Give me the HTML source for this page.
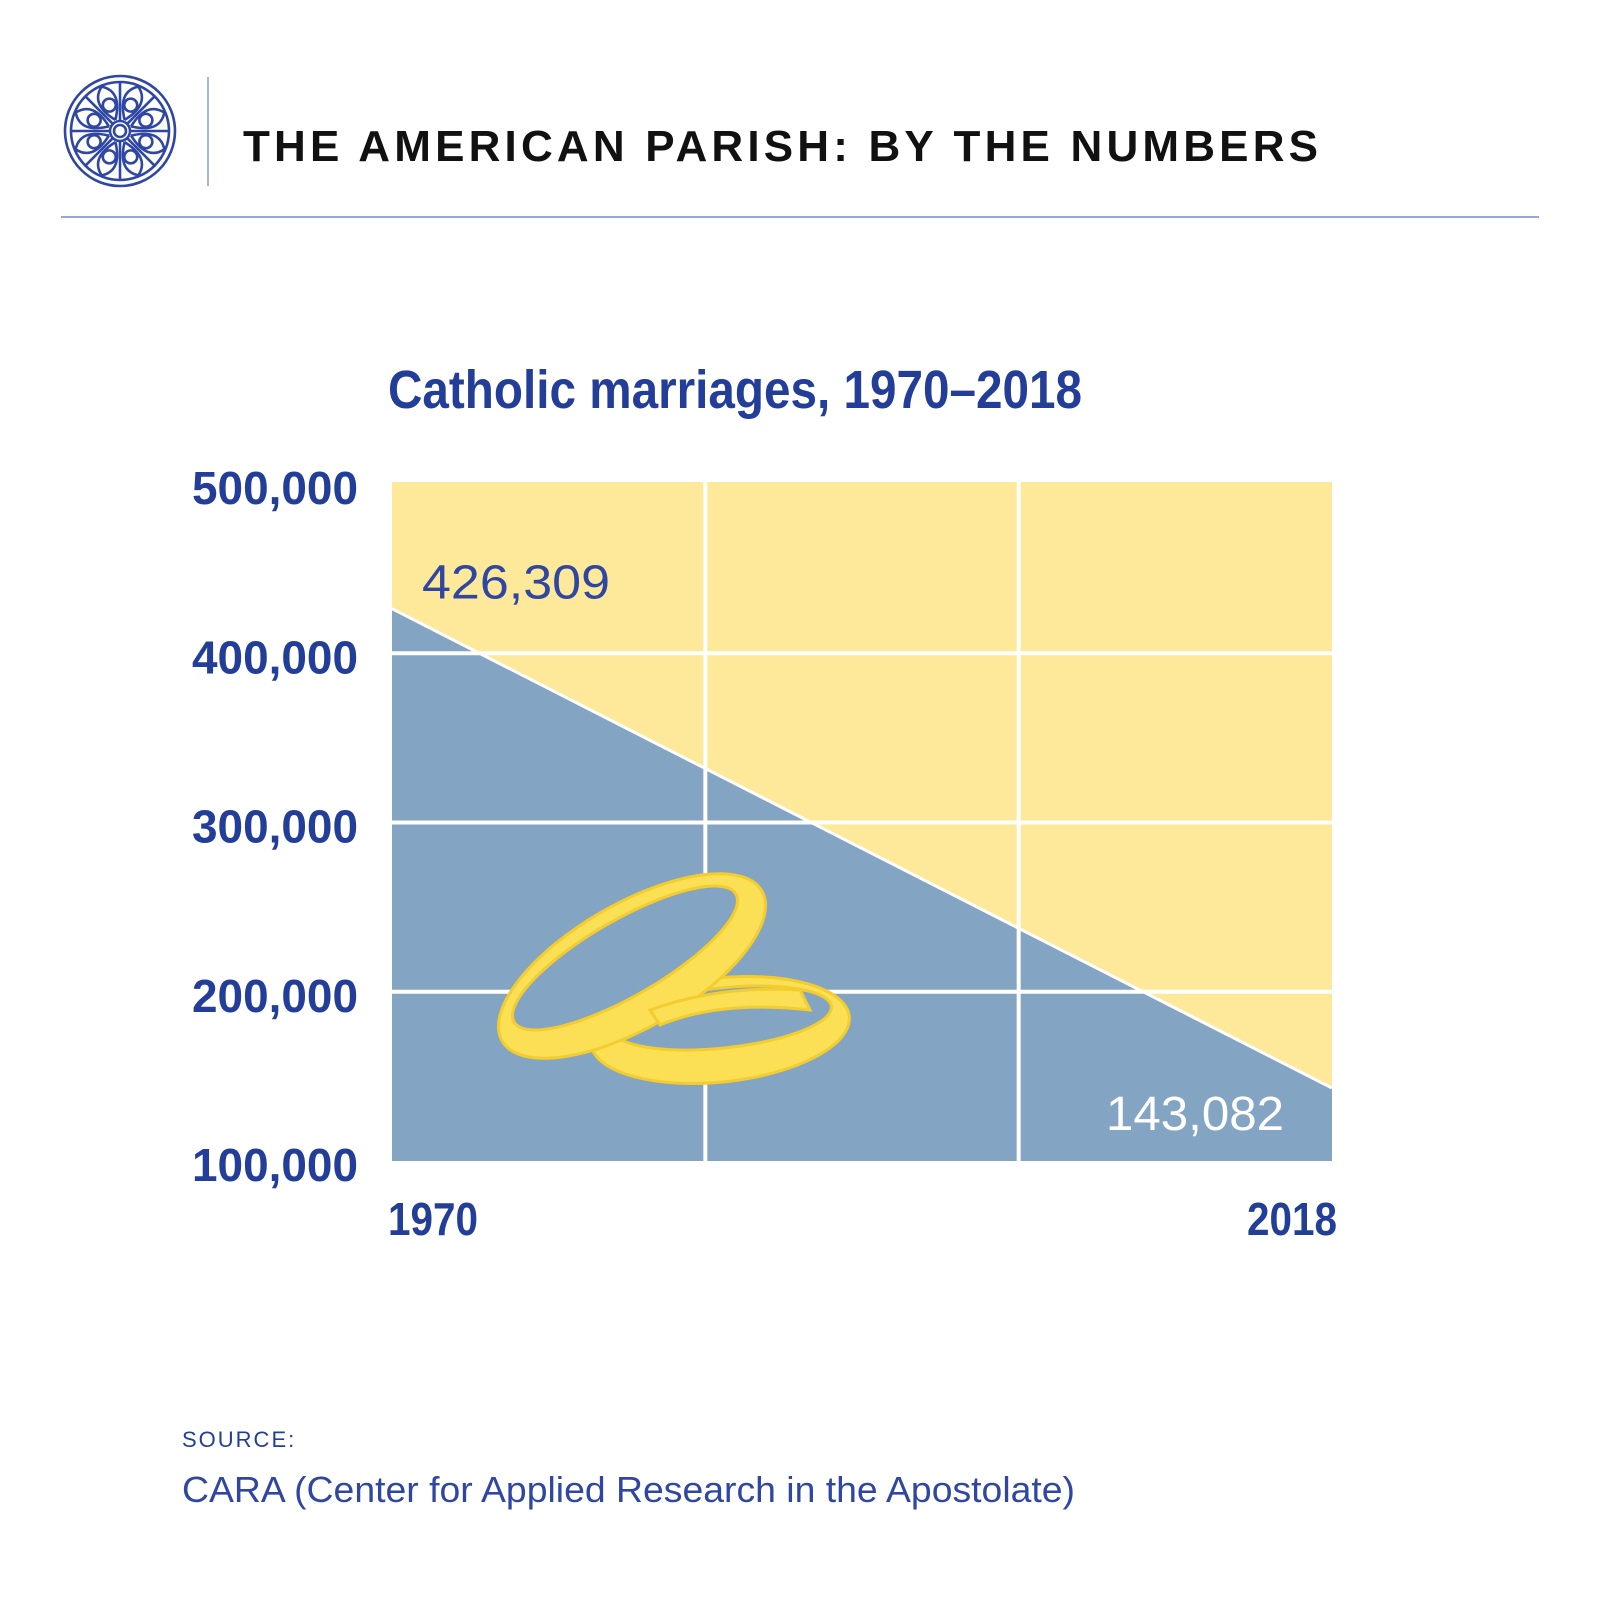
<!DOCTYPE html>
<html><head><meta charset="utf-8"><style>
html,body{margin:0;padding:0;background:#fff;}
svg{display:block;}
</style></head><body>
<svg width="1600" height="1600" viewBox="0 0 1600 1600">
<rect x="0" y="0" width="1600" height="1600" fill="#fff"/>
<g id="logo" fill="none" stroke="#2f47a3" stroke-width="2.6"></g>
<line x1="208" y1="77" x2="208" y2="186" stroke="#8a9bd0" stroke-width="1.5"/>
<text x="243" y="161" font-family="Liberation Sans, sans-serif" font-weight="bold" font-size="44" fill="#111" textLength="1075" lengthAdjust="spacing">THE AMERICAN PARISH: BY THE NUMBERS</text>
<line x1="61" y1="217" x2="1539" y2="217" stroke="#8a9bd0" stroke-width="1.8"/>
<text x="388" y="408" font-family="Liberation Sans Narrow, Liberation Sans, sans-serif" font-weight="bold" font-size="54" fill="#233e99" textLength="694" lengthAdjust="spacingAndGlyphs">Catholic marriages, 1970–2018</text>
<g id="chart"></g>
<text x="182" y="1447" font-family="Liberation Sans, sans-serif" font-size="22" fill="#233e99" letter-spacing="2">SOURCE:</text>
<text x="182" y="1502" font-family="Liberation Sans, sans-serif" font-size="36" fill="#2f47a3" textLength="893" lengthAdjust="spacingAndGlyphs">CARA (Center for Applied Research in the Apostolate)</text>
</svg>
<script>
const years = [1970, 2018];
const values = [426309, 143082];
const yTicks = [100000, 200000, 300000, 400000, 500000];
const yTickLabels = ["100,000", "200,000", "300,000", "400,000", "500,000"];
const valueLabels = ["426,309", "143,082"];

const NS = "http://www.w3.org/2000/svg";
const X0 = 392, X1 = 1332, YT = 484, YB = 1161;
const xScale = v => X0 + (v - years[0]) / (years[years.length-1] - years[0]) * (X1 - X0);
const yScale = v => YB - (v - 100000) / 400000 * (YB - YT);
function mk(tag, attrs, parent) {
  const e = document.createElementNS(NS, tag);
  for (const k in attrs) e.setAttribute(k, attrs[k]);
  parent.appendChild(e);
  return e;
}
// logo
const logo = document.getElementById('logo');
mk('circle', {cx:120, cy:131, r:55}, logo);
mk('circle', {cx:120, cy:131, r:49}, logo);
mk('circle', {cx:120, cy:131, r:10}, logo);
mk('circle', {cx:120, cy:131, r:6}, logo);
for (let i = 0; i < 8; i++) {
  const a = i * Math.PI / 4;
  mk('line', {x1:120+10*Math.cos(a), y1:131+10*Math.sin(a), x2:120+49*Math.cos(a), y2:131+49*Math.sin(a)}, logo);
  const b = a + Math.PI / 8;
  mk('circle', {cx:120+28*Math.cos(b), cy:131+28*Math.sin(b), r:6.5}, logo);
  mk('path', {d:`M${120+12*Math.cos(b)} ${131+12*Math.sin(b)} Q ${120+40*Math.cos(b-0.45)} ${131+40*Math.sin(b-0.45)} ${120+48*Math.cos(b)} ${131+48*Math.sin(b)} Q ${120+40*Math.cos(b+0.45)} ${131+40*Math.sin(b+0.45)} ${120+12*Math.cos(b)} ${131+12*Math.sin(b)}`}, logo);
}
const chart = document.getElementById('chart');
const bg = mk('rect', {x:X0, y:yScale(500000)-2, width:X1-X0, height:YB-yScale(500000)+2, fill:'#fde999'}, chart);


const n = years.length;
let pts = [];
for (let i = 0; i < n; i++) pts.push(xScale(years[i]) + ',' + yScale(values[i]));
pts.push(xScale(years[n-1]) + ',' + YB, xScale(years[0]) + ',' + YB);
const area = mk('polygon', {points: pts.join(' '), fill:'#84a4c4'}, chart);


// gridlines
for (const t of yTicks) {
  if (t === 100000 || t === 500000) continue;
  const g = mk('line', {x1:X0, x2:X1, y1:yScale(t), y2:yScale(t), stroke:'#fff', 'stroke-width':4}, chart);
  
  
}
for (let k = 1; k < 3; k++) {
  const x = X0 + k * (X1 - X0) / 3;
  const g = mk('line', {x1:x, x2:x, y1:YT-12, y2:YB, stroke:'#fff', 'stroke-width':4}, chart);
  
  
}
const line = mk('polyline', {points: years.map((y,i)=>xScale(y)+','+yScale(values[i])).join(' '), fill:'none', stroke:'#fff', 'stroke-width':3}, chart);


// rings
const rings = mk('g', {fill:'#fbdf55', stroke:'#f3cc2e', 'stroke-width':3}, chart);


mk('ellipse', {cx:720, cy:1030, rx:130, ry:52, transform:'rotate(-6 720 1030)'}, rings);
mk('ellipse', {cx:722, cy:1018, rx:110, ry:30, fill:'#84a4c4', transform:'rotate(-6 722 1018)'}, rings);
mk('ellipse', {cx:632, cy:966, rx:150, ry:62, transform:'rotate(-30 632 966)'}, rings);
mk('ellipse', {cx:625, cy:958, rx:128, ry:38, fill:'#84a4c4', transform:'rotate(-30 625 958)'}, rings);
mk('path', {d:'M650 1010 Q 720 985 800 990 L 810 1010 Q 720 1000 660 1025 Z'}, rings);
// y labels
yTicks.forEach((t,i) => {
  const e = mk('text', {x:358, y:yScale(t)+20, 'text-anchor':'end', 'font-family':'Liberation Sans Narrow, Liberation Sans, sans-serif', 'font-weight':'bold', 'font-size':46, fill:'#233e99', textLength:166, lengthAdjust:'spacingAndGlyphs'}, chart);
  e.textContent = yTickLabels[i];
  
  
});
// x labels
const xl1 = mk('text', {x:xScale(years[0])-4, y:1235, 'font-family':'Liberation Sans Narrow, Liberation Sans, sans-serif', 'font-weight':'bold', 'font-size':46, fill:'#233e99', textLength:90, lengthAdjust:'spacingAndGlyphs'}, chart);
xl1.textContent = String(years[0]);


const xl2 = mk('text', {x:xScale(years[n-1])+5, y:1235, 'text-anchor':'end', 'font-family':'Liberation Sans Narrow, Liberation Sans, sans-serif', 'font-weight':'bold', 'font-size':46, fill:'#233e99', textLength:90, lengthAdjust:'spacingAndGlyphs'}, chart);
xl2.textContent = String(years[n-1]);


// value labels
const v1 = mk('text', {x:xScale(years[0])+30, y:yScale(values[0])-10, 'font-family':'Liberation Sans, sans-serif', 'font-size':48, fill:'#2f47a3', textLength:188, lengthAdjust:'spacingAndGlyphs'}, chart);
v1.textContent = valueLabels[0];


const v2 = mk('text', {x:xScale(years[n-1])-48, y:yScale(values[n-1])+42, 'text-anchor':'end', 'font-family':'Liberation Sans, sans-serif', 'font-size':48, fill:'#fff', textLength:178, lengthAdjust:'spacingAndGlyphs'}, chart);
v2.textContent = valueLabels[1];


</script>
</body></html>
